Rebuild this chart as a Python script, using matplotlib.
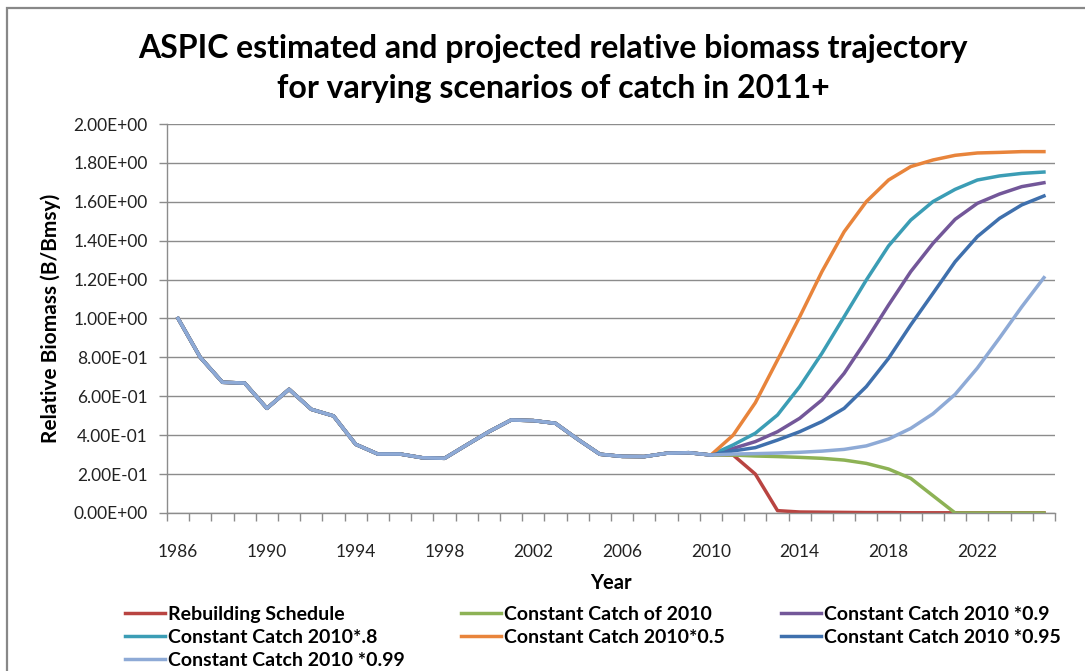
import matplotlib
matplotlib.use("Agg")
import matplotlib.pyplot as plt
from matplotlib.patches import Rectangle
from matplotlib.ticker import FixedLocator, FuncFormatter

plt.rcParams['font.family'] = ['Lato', 'DejaVu Sans']

# assessment years and projection years
hist_years = list(range(1986, 2011))
proj_years = list(range(2010, 2026))

# ASPIC estimated B/Bmsy, 1986-2010 (shared by all scenarios)
hist_b = [1.00, 0.80, 0.672, 0.668, 0.538, 0.636, 0.533, 0.499, 0.353, 0.303,
          0.303, 0.284, 0.281, 0.350, 0.418, 0.478, 0.475, 0.461, 0.379, 0.302,
          0.291, 0.290, 0.307, 0.310, 0.298]

# projected B/Bmsy, 2010-2025
rebuilding = [0.298, 0.298, 0.200, 0.012, 0.005, 0.004, 0.003, 0.002, 0.002,
              0.001, 0.001, 0.001, 0.001, 0.001, 0.001, 0.001]
const_2010 = [0.298, 0.298, 0.293, 0.290, 0.286, 0.281, 0.272, 0.255, 0.226,
              0.178, 0.089, 0.0, 0.0, 0.0, 0.0, 0.0]
catch_090 = [0.298, 0.332, 0.367, 0.418, 0.487, 0.581, 0.718, 0.889, 1.069,
             1.241, 1.386, 1.510, 1.592, 1.640, 1.678, 1.698]
catch_080 = [0.298, 0.350, 0.410, 0.504, 0.650, 0.821, 1.009, 1.198, 1.373,
             1.506, 1.601, 1.664, 1.712, 1.733, 1.746, 1.753]
catch_050 = [0.298, 0.400, 0.567, 0.787, 1.009, 1.241, 1.446, 1.601, 1.712,
             1.781, 1.815, 1.839, 1.851, 1.854, 1.858, 1.858]
catch_095 = [0.298, 0.319, 0.336, 0.375, 0.418, 0.470, 0.538, 0.650, 0.795,
             0.967, 1.129, 1.292, 1.421, 1.515, 1.584, 1.630]
catch_099 = [0.298, 0.303, 0.305, 0.308, 0.312, 0.318, 0.327, 0.345, 0.380,
             0.435, 0.510, 0.610, 0.745, 0.900, 1.060, 1.210]

series = [
    ("Rebuilding Schedule", rebuilding, "#b94441"),
    ("Constant Catch of 2010", const_2010, "#8db255"),
    ("Constant Catch 2010 *0.9", catch_090, "#735799"),
    ("Constant Catch 2010*.8", catch_080, "#3b9db5"),
    ("Constant Catch 2010*0.5", catch_050, "#e8843b"),
    ("Constant Catch 2010 *0.95", catch_095, "#3f70ad"),
    ("Constant Catch 2010 *0.99", catch_099, "#8eaad6"),
]

fig = plt.figure(figsize=(10.85, 6.71), dpi=100)
ax = fig.add_axes([0.1539, 0.2355, 0.8185, 0.5797])

lines = {}
for name, proj, color in series:
    x = hist_years + proj_years[1:]
    y = hist_b + proj[1:]
    ln, = ax.plot(x, y, color=color, lw=2.5, solid_joinstyle='round', label=name)
    lines[name] = ln

ax.set_xlim(1985.5, 2025.5)
ax.set_ylim(0, 2.0)

# y axis: gridlines every 0.2, labels in Excel scientific format
yt = [i * 0.2 for i in range(11)]
ax.set_yticks(yt)
ax.yaxis.set_major_formatter(FuncFormatter(lambda v, p: "%.2E" % v))
ax.grid(axis='y', color='#8c8c8c', lw=1)
ax.set_axisbelow(True)

# x axis: tick marks between categories, labels every 4 years
ax.xaxis.set_major_locator(FixedLocator(list(range(1986, 2026, 4))))
ax.xaxis.set_minor_locator(FixedLocator([y + 0.5 for y in range(1985, 2026)]))
ax.tick_params(axis='x', which='major', length=0, pad=22, labelsize=12.5, labelcolor='#222222')
ax.tick_params(axis='x', which='minor', length=6, color='#8c8c8c', width=1)
ax.tick_params(axis='y', length=6, color='#8c8c8c', width=1, pad=8, labelsize=12.5, labelcolor='#222222')

for side in ('top', 'right'):
    ax.spines[side].set_visible(False)
for side in ('left', 'bottom'):
    ax.spines[side].set_color('#8c8c8c')
    ax.spines[side].set_linewidth(1)

ax.set_xlabel("Year", fontsize=14.5, fontweight='bold', labelpad=10)
ax.set_ylabel("Relative Biomass (B/Bmsy)", fontsize=15, fontweight='bold', labelpad=9)

fig.text(0.51, 0.928, "ASPIC estimated and projected relative biomass trajectory",
         ha='center', va='center', fontsize=23, fontweight='bold')
fig.text(0.51, 0.868, "for varying scenarios of catch in 2011+",
         ha='center', va='center', fontsize=23, fontweight='bold')

# legend filled column by column, so order handles to read row-wise
order = ["Rebuilding Schedule", "Constant Catch 2010*.8", "Constant Catch 2010 *0.99",
         "Constant Catch of 2010", "Constant Catch 2010*0.5",
         "Constant Catch 2010 *0.9", "Constant Catch 2010 *0.95"]
fig.legend([lines[n] for n in order], order, ncol=3, loc='upper left',
           bbox_to_anchor=(0.1152, 0.097), frameon=False,
           prop={'size': 14, 'weight': 'bold'}, handlelength=2.05,
           handletextpad=0.15, columnspacing=2.9, labelspacing=0.3,
           borderaxespad=0, borderpad=0)

# chart area border
fig.patches.append(Rectangle((7 / 1085, -0.1), 1.2, 1 - 8 / 671 + 0.1,
                             transform=fig.transFigure, fill=False,
                             edgecolor='#888888', lw=1.6))

fig.savefig("out.png", dpi=100)
